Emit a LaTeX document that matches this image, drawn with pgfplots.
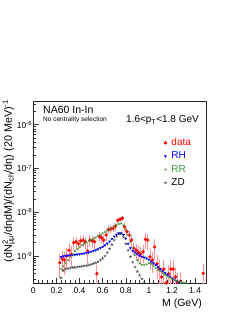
\documentclass[border=0pt]{standalone}
\usepackage{fontspec}
\setmainfont{Liberation Sans}
\usepackage{pgfplots}
\pgfplotsset{compat=1.18}
\definecolor{rrgreen}{RGB}{60,150,60}
\definecolor{errred}{RGB}{250,150,150}
\begin{document}
\begin{tikzpicture}[x=1pt,y=1pt]
\path[use as bounding box] (0,0) rectangle (241,312);
\begin{axis}[
  at={(33.3pt,29pt)}, anchor=south west,
  scale only axis, width=173.4pt, height=181.5pt,
  xmin=0, xmax=1.5, ymode=log, ymin=2.4e-10, ymax=3.4e-6,
  axis line style={black!85, line width=0.6pt},
  tick align=inside, xtick pos=left, ytick pos=left,
  major tick length=5.5pt, minor tick length=3pt,
  tick style={black!80, line width=0.5pt},
  xtick={0,0.2,0.4,0.6,0.8,1,1.2,1.4},
  xticklabels={0,0.2,0.4,0.6,0.8,1,1.2,1.4},
  minor x tick num=4,
  ytick={1e-9,1e-8,1e-7,1e-6},
  yticklabels={10\textsuperscript{-9},10\textsuperscript{-8},10\textsuperscript{-7},10\textsuperscript{-6}},
  minor ytick={3e-10,4e-10,5e-10,6e-10,7e-10,8e-10,9e-10,2e-9,3e-9,4e-9,5e-9,6e-9,7e-9,8e-9,9e-9,2e-8,3e-8,4e-8,5e-8,6e-8,7e-8,8e-8,9e-8,2e-7,3e-7,4e-7,5e-7,6e-7,7e-7,8e-7,9e-7,2e-6,3e-6},
  xticklabel style={font=\fontsize{8.5}{8.5}\selectfont, inner sep=0pt, yshift=-4pt},
  yticklabel style={font=\fontsize{8.5}{8.5}\selectfont, inner sep=1pt},
  xlabel={M (GeV)},
  ylabel={(dN\rlap{\textsuperscript{2}}\textsubscript{μμ}/dηdM)/(dN\textsubscript{ch}/dη) (20 MeV)\textsuperscript{-1}},
  every axis x label/.style={at={(rel axis cs:1,0)}, anchor=base east, xshift=-4.7pt, yshift=-23pt, inner sep=0pt, font=\fontsize{10.5}{10.5}\selectfont},
  every axis y label/.style={at={(rel axis cs:-0.105,1.01)}, rotate=90, anchor=south east, inner sep=0pt, font=\fontsize{10.8}{10.8}\selectfont},
  legend style={draw=none, fill=none, at={(rel axis cs:0.735,0.81)}, anchor=north west,
    font=\fontsize{10}{10}\selectfont, nodes={inner sep=0pt, text height=7.5pt, text depth=2pt},
    row sep=3.8pt, column sep=4.5pt},
  legend cell align=left,
  legend image code/.code={\draw[mark repeat=1,mark phase=1,#1] plot coordinates {(2pt,0pt)};},
  clip=true,
]
% data
\addplot[only marks, mark=*, mark size=1.5pt, color=red,
  error bars/.cd, y dir=both, y explicit relative, error mark=none,
  error bar style={errred, line width=0.9pt}]
  coordinates {
(0.23,7.0e-10) +- (0,0.55)
(0.25,8.5e-10) +- (0,0.5)
(0.27,8.0e-10) +- (0,0.55)
(0.29,1.0e-9) +- (0,0.5)
(0.31,1.35e-9) +- (0,0.45)
(0.33,1.1e-9) +- (0,0.5)
(0.35,2.0e-9) +- (0,0.35)
(0.37,2.1e-9) +- (0,0.3)
(0.39,1.9e-9) +- (0,0.3)
(0.41,2.2e-9) +- (0,0.3)
(0.43,2.3e-9) +- (0,0.3)
(0.45,2.1e-9) +- (0,0.3)
(0.47,1.3e-9) +- (0,0.5)
(0.49,2.3e-9) +- (0,0.3)
(0.51,2.2e-9) +- (0,0.3)
(0.53,2.1e-9) +- (0,0.3)
(0.55,3.9e-10) +- (0,0.6)
(0.57,2.8e-9) +- (0,0.25)
(0.59,2.6e-9) +- (0,0.25)
(0.61,2.3e-9) +- (0,0.3)
(0.63,3.0e-9) +- (0,0.25)
(0.65,4.0e-9) +- (0,0.2)
(0.67,4.1e-9) +- (0,0.2)
(0.69,4.3e-9) +- (0,0.2)
(0.71,4.8e-9) +- (0,0.2)
(0.73,6.5e-9) +- (0,0.15)
(0.75,6.9e-9) +- (0,0.15)
(0.77,7.3e-9) +- (0,0.15)
(0.79,4.6e-9) +- (0,0.2)
(0.81,3.6e-9) +- (0,0.2)
(0.83,3.0e-9) +- (0,0.25)
(0.85,2.3e-9) +- (0,0.3)
(0.87,1.5e-9) +- (0,0.35)
(0.89,1.35e-9) +- (0,0.4)
(0.91,1.2e-9) +- (0,0.4)
(0.93,1.1e-9) +- (0,0.45)
(0.95,1.25e-9) +- (0,0.45)
(0.97,2.4e-9) +- (0,0.4)
(0.99,2.3e-9) +- (0,0.4)
(1.01,9.5e-10) +- (0,0.5)
(1.03,8.0e-10) +- (0,0.5)
(1.05,1.6e-9) +- (0,0.5)
(1.07,6.6e-10) +- (0,0.55)
(1.09,5.0e-10) +- (0,0.6)
(1.11,3.3e-10) +- (0,0.6)
(1.13,5.0e-10) +- (0,0.6)
(1.15,2.4e-10) +- (0,0.6)
(1.17,3.9e-10) +- (0,0.6)
(1.19,5.0e-10) +- (0,0.6)
(1.21,5.0e-10) +- (0,0.6)
(1.23,3.3e-10) +- (0,0.6)
(1.25,2.5e-10) +- (0,0.6)
(1.27,2.6e-10) +- (0,0.6)
(1.47,4.0e-10) +- (0,0.6)
};
\addlegendentry{\textcolor{red}{data}}
% RH
\addplot[only marks, mark=triangle*, mark size=1.2pt, color=blue, mark options={rotate=180}]
  table {
0.24 0.95e-9
0.26 0.98e-9
0.28 1.0e-9
0.30 1.02e-9
0.32 1.03e-9
0.34 1.05e-9
0.36 1.06e-9
0.38 1.08e-9
0.40 1.1e-9
0.42 1.12e-9
0.44 1.14e-9
0.46 1.17e-9
0.48 1.2e-9
0.50 1.25e-9
0.52 1.3e-9
0.54 1.36e-9
0.56 1.42e-9
0.58 1.52e-9
0.60 1.62e-9
0.62 1.75e-9
0.64 1.92e-9
0.66 2.15e-9
0.68 2.45e-9
0.70 2.8e-9
0.72 3.1e-9
0.74 3.3e-9
0.76 3.3e-9
0.78 3.05e-9
0.80 2.5e-9
0.82 1.9e-9
0.84 1.5e-9
0.86 1.3e-9
0.88 1.2e-9
0.90 1.1e-9
0.92 1.02e-9
0.94 0.96e-9
0.96 0.92e-9
0.98 0.88e-9
1.00 0.82e-9
1.02 0.74e-9
1.04 0.68e-9
1.06 0.62e-9
1.08 0.56e-9
1.10 0.5e-9
1.12 0.45e-9
1.14 0.41e-9
1.16 0.37e-9
1.18 0.34e-9
1.20 0.31e-9
1.22 0.29e-9
1.24 0.27e-9
1.26 0.25e-9
1.28 0.235e-9
1.30 0.22e-9
1.32 0.21e-9
};
\addlegendentry{\textcolor{blue}{RH}}
% RR
\addplot[only marks, mark=asterisk, mark size=1.1pt, color=rrgreen]
  table {
0.24 5.0e-10
0.26 5.8e-10
0.28 6.8e-10
0.30 8.0e-10
0.32 9.5e-10
0.34 1.1e-9
0.36 1.3e-9
0.38 1.45e-9
0.40 1.6e-9
0.42 1.75e-9
0.44 1.9e-9
0.46 2.05e-9
0.48 2.2e-9
0.50 2.35e-9
0.52 2.5e-9
0.54 2.65e-9
0.56 2.85e-9
0.58 3.05e-9
0.60 3.3e-9
0.62 3.5e-9
0.64 3.8e-9
0.66 4.1e-9
0.68 4.4e-9
0.70 4.7e-9
0.72 5.1e-9
0.74 5.4e-9
0.76 5.5e-9
0.78 5.0e-9
0.80 4.0e-9
0.82 3.0e-9
0.84 2.1e-9
0.86 1.5e-9
0.88 1.05e-9
0.90 8.0e-10
0.92 6.8e-10
0.94 6.3e-10
0.96 6.2e-10
0.98 6.4e-10
1.00 6.8e-10
1.02 6.6e-10
1.04 5.9e-10
1.06 5.3e-10
1.08 4.8e-10
1.10 4.4e-10
1.12 4.0e-10
1.14 3.7e-10
1.16 3.4e-10
1.18 3.2e-10
1.20 3.0e-10
1.22 2.85e-10
1.24 2.7e-10
1.26 2.6e-10
1.28 2.5e-10
1.30 2.45e-10
1.32 2.4e-10
1.34 2.35e-10
1.36 2.3e-10
1.38 2.28e-10
1.40 2.25e-10
1.42 2.22e-10
};
\addlegendentry{\textcolor{rrgreen}{RR}}
% ZD
\addplot[only marks, mark=star, mark size=1.5pt, color=black!75]
  table {
0.24 3.2e-10
0.26 4.6e-10
0.28 5.0e-10
0.30 5.2e-10
0.32 5.3e-10
0.34 5.4e-10
0.36 5.5e-10
0.38 5.6e-10
0.40 5.7e-10
0.42 5.8e-10
0.44 5.9e-10
0.46 6.0e-10
0.48 6.2e-10
0.50 6.4e-10
0.52 6.7e-10
0.54 7.0e-10
0.56 7.4e-10
0.58 8.0e-10
0.60 8.8e-10
0.62 1.0e-9
0.64 1.2e-9
0.66 1.45e-9
0.68 1.8e-9
0.70 2.3e-9
0.72 2.8e-9
0.74 3.2e-9
0.76 3.2e-9
0.78 2.7e-9
0.80 1.9e-9
0.82 1.35e-9
0.84 9.5e-10
0.86 7.2e-10
0.88 5.6e-10
0.90 4.4e-10
0.92 3.6e-10
0.94 3.0e-10
0.96 2.5e-10
0.98 2.15e-10
};
\addlegendentry{ZD}
\end{axis}
\node[anchor=base west, inner sep=0pt, font=\fontsize{10.5}{10.5}\selectfont] at (43,198) {NA60 In-In};
\node[anchor=base west, inner sep=0pt, font=\fontsize{6.5}{6.5}\selectfont] at (43,190) {No centrality selection};
\node[anchor=base east, inner sep=0pt, font=\fontsize{10}{10}\selectfont] at (199,189) {1.6<p\textsubscript{T}<1.8 GeV};
\end{tikzpicture}
\end{document}
